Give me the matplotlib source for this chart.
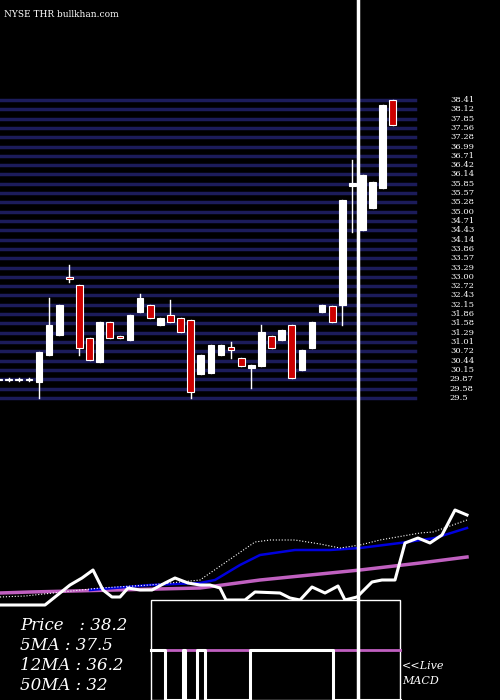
import numpy as np
import matplotlib.pyplot as plt
from matplotlib.patches import Rectangle

# candle data (open, close, high, low)
opens  = [29.94, 29.94, 29.94, 29.94, 29.88, 30.70, 31.30, 33.05, 32.81, 31.21, 30.49, 31.70, 31.27, 31.15, 32.00, 32.21,
          31.60, 31.91, 31.82, 31.76, 30.13, 30.16, 30.70, 30.94, 30.61, 30.31, 30.37, 31.27, 31.15, 31.60, 30.25, 30.91, 32.00,
          32.18, 32.21, 35.80, 34.47, 35.14, 35.74, 38.40]
closes = [29.94, 29.94, 29.94, 29.94, 30.79, 31.60, 32.21, 33.00, 30.91, 30.55, 31.70, 31.21, 31.21, 31.91, 32.42, 31.82,
          31.82, 31.70, 31.39, 29.58, 30.70, 31.00, 31.00, 30.85, 30.37, 30.40, 31.39, 30.91, 31.45, 30.00, 30.85, 31.70, 32.21,
          31.70, 35.38, 35.89, 36.13, 35.92, 38.25, 37.64]
highs  = [30.00, 30.00, 30.00, 30.00, 30.79, 32.42, 32.21, 33.42, 32.81, 31.21, 31.70, 31.70, 31.27, 31.91, 32.54, 32.21,
          31.82, 32.36, 31.82, 31.76, 30.70, 31.00, 31.00, 31.10, 30.61, 30.40, 31.60, 31.27, 31.45, 31.60, 30.85, 31.70, 32.21,
          32.18, 35.38, 36.59, 36.13, 35.92, 38.25, 38.40]
lows   = [29.90, 29.90, 29.90, 29.90, 29.40, 30.70, 31.30, 32.90, 30.70, 30.55, 30.49, 31.21, 31.21, 31.15, 32.00, 31.82,
          31.60, 31.70, 31.39, 29.40, 30.13, 30.16, 30.70, 30.61, 30.37, 29.70, 30.37, 30.91, 31.15, 30.00, 30.25, 30.91, 32.00,
          31.70, 31.60, 34.41, 34.47, 35.14, 35.74, 37.64]

levels = ['38.41', '38.12', '37.85', '37.56', '37.28', '36.99', '36.71', '36.42', '36.14', '35.85', '35.57', '35.28',
          '35.00', '34.71', '34.43', '34.14', '33.86', '33.57', '33.29', '33.00', '32.72', '32.43', '32.15', '31.86',
          '31.58', '31.29', '31.01', '30.72', '30.44', '30.15', '29.87', '29.58', '29.5']

# indicator panel (x, level) pairs
price_x = [0, 45, 70, 82, 93, 103, 112, 120, 128, 140, 152, 165, 175, 188, 200, 210, 220, 226, 245, 255, 280, 290, 300,
           312, 325, 338, 345, 357, 372, 382, 395, 405, 418, 430, 442, 455, 467]
price_y = [605, 605, 585, 578, 570, 590, 597, 597, 588, 590, 590, 583, 578, 583, 585, 585, 588, 600, 600, 592, 593, 598,
           600, 587, 593, 586, 600, 597, 582, 580, 580, 543, 538, 543, 535, 510, 515]
ma5_x = [0, 25, 100, 150, 200, 255, 270, 295, 320, 340, 360, 380, 420, 433, 467]
ma5_y = [597, 596, 588, 585, 580, 542, 540, 540, 544, 548, 545, 540, 533, 532, 520]
ma12_x = [90, 150, 200, 215, 240, 260, 295, 330, 360, 400, 435, 467]
ma12_y = [590, 585, 583, 580, 565, 555, 550, 550, 548, 543, 538, 528]
ma50_x = [0, 30, 200, 260, 360, 420, 467]
ma50_y = [593, 592, 588, 580, 570, 563, 557]
macd_x = [151, 165, 183, 185, 197, 205, 250, 333, 400]
macd_y = [650, 700, 650, 700, 650, 700, 650, 700, 700]

fig = plt.figure(figsize=(5, 7), dpi=100, facecolor='black')

# price panel
ax = fig.add_axes([0, 220 / 700, 1, 480 / 700])
ax.set_facecolor('black')
ax.set_xlim(0.143, 49.6)
ax.set_ylim(26.92, 41.42)
ax.axis('off')
for i, lv in enumerate(levels):
    y = 38.4 - i * (9.0 / 32)
    ax.plot([0.143, 41.19], [y, y], color='#1c1c5a', lw=2.5, zorder=1)
    ax.text(44.65, y, lv, color='white', fontsize=6, va='center', ha='left', family='DejaVu Serif')
for i in range(len(opens)):
    o, c, h, l = opens[i], closes[i], highs[i], lows[i]
    ax.plot([i, i], [l, h], color='white', lw=1, zorder=2)
    up = c >= o
    body = abs(c - o) if abs(c - o) > 0.02 else 0.03
    ax.add_patch(Rectangle((i - 0.33, min(o, c)), 0.66, body, facecolor='white' if up else '#cc0000',
                           edgecolor='white', lw=0.8, zorder=3))
ax.axvline(35.55, color='white', lw=2.5, zorder=4)
ax.text(0.5, 40.9, 'NYSE THR bullkhan.com', color='white', fontsize=6.5, family='DejaVu Serif')

# indicator panel
ax2 = fig.add_axes([0, 0, 1, 220 / 700])
ax2.set_facecolor('black')
ax2.set_xlim(0, 500)
ax2.set_ylim(700, 480)
ax2.axis('off')
ax2.plot(ma50_x, ma50_y, color='#c060c0', lw=2.5)
ax2.plot(ma12_x, ma12_y, color='#0000dd', lw=1.8)
ax2.plot(ma5_x, ma5_y, color='white', lw=0.8, ls=':')
ax2.plot(price_x, price_y, color='white', lw=2.2)
ax2.add_patch(Rectangle((151, 600), 249, 100, facecolor='black', edgecolor='white', lw=1, zorder=5))
ax2.plot([151, 400], [650, 650], color='#c060c0', lw=2, zorder=6)
ax2.step(macd_x, macd_y, where='post', color='white', lw=2.2, zorder=7)
ax2.axvline(358, color='white', lw=2.5, zorder=8)
for txt, yy in [('Price   : 38.2', 625), ('5MA : 37.5', 645), ('12MA : 36.2', 665), ('50MA : 32', 685)]:
    ax2.text(20, yy, txt, color='white', fontsize=12, style='italic', family='DejaVu Serif', va='center')
ax2.text(402, 666, '<<Live', color='white', fontsize=8, style='italic', family='DejaVu Serif', va='center')
ax2.text(402, 681, 'MACD', color='white', fontsize=8, style='italic', family='DejaVu Serif', va='center')

fig.savefig('out.png', dpi=100, facecolor='black')
